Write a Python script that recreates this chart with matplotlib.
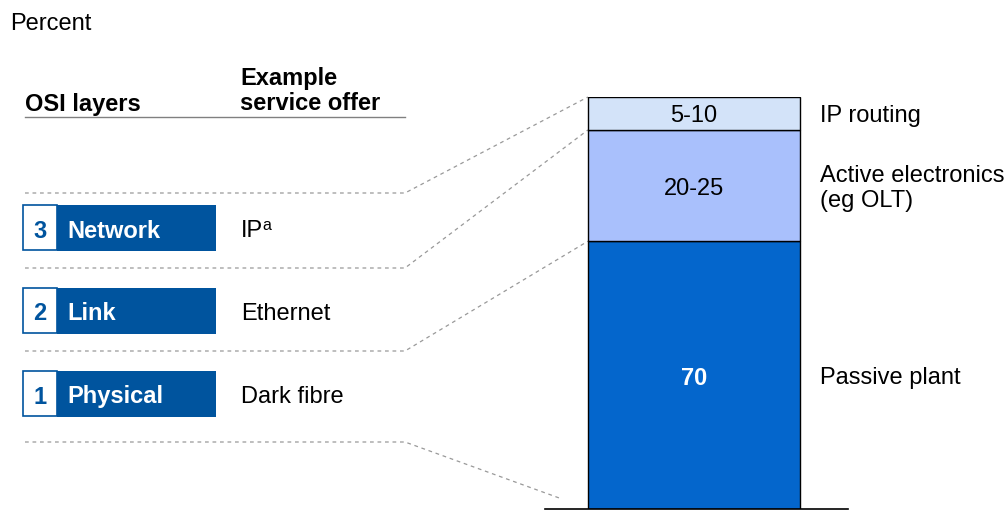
import matplotlib
matplotlib.use('Agg')
import matplotlib.pyplot as plt
from matplotlib.patches import Rectangle
from matplotlib.transforms import offset_copy
import numpy as np

plt.rcParams['font.family'] = ['Liberation Sans', 'DejaVu Sans']

# ── Data ──
segments = ["Passive plant", "Active electronics\n(eg OLT)", "IP routing"]
seg_values = [65, 27, 8]                 # bar heights as drawn (percent)
seg_labels = ["70", "20-25", "5-10"]     # printed labels
seg_colors = ["#0466CC", "#A9C0FC", "#D3E3F9"]
seg_text_colors = ["white", "black", "black"]
seg_text_bold = [True, False, False]

layer_nums = ["3", "2", "1"]
layer_names = ["Network", "Link", "Physical"]
service_offers = ["IP", "Ethernet", "Dark fibre"]

BOX_BLUE = "#00549E"
FS = 17
W, H = 1005, 511
DY = 3   # nudge text down a little (pixels)

fig = plt.figure(figsize=(W / 100, H / 100), dpi=100)

# overlay axes in pixel coordinates (y down)
ov = fig.add_axes([0, 0, 1, 1])
ov.set_xlim(0, W)
ov.set_ylim(H, 0)
ov.axis('off')

# ── Bar axes ──
def fx(px):
    return px / W

def fy(py):
    return 1 - py / H

bar_top, bar_bot = 97, 509
ax = fig.add_axes([fx(545), fy(bar_bot), fx(848) - fx(545), (bar_bot - bar_top) / H])
ax.set_xlim(-0.983, 1.017)
ax.set_ylim(0, sum(seg_values))
bar_w = 2 * 212 / 303
bottoms = np.concatenate([[0], np.cumsum(seg_values)[:-1]])
ax.bar([0] * len(seg_values), seg_values, bottom=bottoms, width=bar_w,
       color=seg_colors, edgecolor="black", linewidth=1.0, zorder=2)
tr = offset_copy(ax.transData, fig=fig, y=-DY, units='dots')
for v, b, lab, tc, bold in zip(seg_values, bottoms, seg_labels, seg_text_colors, seg_text_bold):
    ax.text(0, b + v / 2, lab, ha="center", va="center", fontsize=FS, color=tc,
            fontweight="bold" if bold else "normal", transform=tr)
for s in ["top", "left", "right"]:
    ax.spines[s].set_visible(False)
ax.spines["bottom"].set_linewidth(1.2)
ax.set_xticks([])
ax.set_yticks([])
ax.patch.set_alpha(0)

# segment labels right of bar
for v, b, name in zip(seg_values, bottoms, segments):
    ax.text(bar_w / 2 + 0.13, b + v / 2, name, ha="left", va="center",
            fontsize=FS, color="black", linespacing=1.15, clip_on=False, transform=tr)

# ── Left panel ──
ov.text(10, 22 + DY - 1, "Percent", ha="left", va="center", fontsize=FS)
ov.text(25, 104 + 1, "OSI layers", ha="left", va="center", fontsize=FS, fontweight="bold")
ov.text(240, 90 + 1, "Example\nservice offer", ha="left", va="center", fontsize=FS,
        fontweight="bold", linespacing=1.15)
ov.plot([25, 405], [117, 117], color="#808080", lw=1.0)

box_tops = [205, 288, 371]
box_h = 46
for num, name, offer, top in zip(layer_nums, layer_names, service_offers, box_tops):
    ov.add_patch(Rectangle((57, top), 159, box_h, facecolor=BOX_BLUE, edgecolor="none"))
    ov.add_patch(Rectangle((22.5, top + 0.5), 34.5, box_h - 1, facecolor="white",
                           edgecolor=BOX_BLUE, lw=1.2))
    cy = top + box_h / 2 + DY
    ov.text(40, cy, num, ha="center", va="center", fontsize=FS, fontweight="bold", color=BOX_BLUE)
    ov.text(67, cy, name, ha="left", va="center", fontsize=FS, fontweight="bold", color="white")
    ov.text(241, cy, offer, ha="left", va="center", fontsize=FS, color="black")
    if offer == "IP":
        ov.text(262, cy - 5, "a", ha="left", va="center", fontsize=11.5, color="black")

# ── Dashed connectors to bar boundaries ──
to_ov = ov.transData.inverted()
bound_vals = list(np.cumsum(seg_values)[::-1])
conn_y = [193, 268, 351]
bar_left = -bar_w / 2
targets = []
for val in bound_vals:
    px, py = to_ov.transform(ax.transData.transform((bar_left, val)))
    targets.append((px, py))
dash = dict(color="#999999", lw=0.9, linestyle=(0, (3, 3)))
for y0, (tx, ty) in zip(conn_y, targets):
    ov.plot([25, 405, tx], [y0, y0, ty], **dash)
ov.plot([25, 405, 562], [442, 442, 499], **dash)

fig.savefig("out.png", dpi=100)
